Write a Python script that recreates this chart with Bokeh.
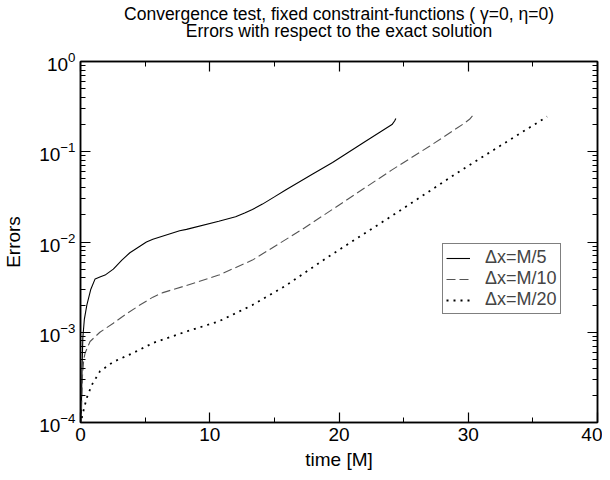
from bokeh.plotting import figure
from bokeh.models import (FixedTicker, Legend, LegendItem, LinearAxis, Title,
                          Range1d, CustomJSTickFormatter)
from bokeh.embed import file_html
from bokeh.resources import INLINE

# ---- data ----
t_m5 = [0.05, 0.12, 0.18, 0.3, 0.49, 0.8, 1.13, 1.5, 1.9, 2.54, 3.2, 3.82, 5.1, 5.6,
        7.67, 8.2, 10.7, 12.0, 12.7, 13.3, 14.08, 15.0, 15.9, 17.9, 19.5, 22.0, 24.1,
        24.3, 24.4]
e_m5 = [1.0e-4, 4.0e-4, 8.7e-4, 1.4e-3, 2.0e-3, 3.0e-3, 3.9e-3, 4.1e-3, 4.3e-3, 5.0e-3,
        6.3e-3, 7.6e-3, 1.0e-2, 1.07e-2, 1.33e-2, 1.38e-2, 1.7e-2, 1.9e-2, 2.09e-2,
        2.29e-2, 2.63e-2, 3.16e-2, 3.8e-2, 5.6e-2, 7.6e-2, 0.129, 0.20, 0.219, 0.234]

t_m10 = [0.05, 0.15, 0.25, 0.36, 0.74, 1.5, 2.54, 3.5, 4.59, 5.6, 6.38, 8.2, 10.7,
         13.3, 15.9, 17.15, 19.5, 24.1, 27.0, 29.7, 30.1, 30.4]
e_m10 = [1.0e-4, 3.2e-4, 5.0e-4, 5.9e-4, 7.9e-4, 1.0e-3, 1.26e-3, 1.58e-3, 2.0e-3,
         2.45e-3, 2.75e-3, 3.3e-3, 4.3e-3, 6.3e-3, 1.07e-2, 1.38e-2, 2.3e-2, 6.3e-2,
         0.115, 0.207, 0.229, 0.257]

t_m20 = [0.1, 0.28, 0.5, 0.87, 1.51, 2.54, 4.08, 5.6, 8.2, 10.7, 13.3, 15.9, 19.2,
         24.1, 29.2, 32.5, 36.1]
e_m20 = [1.12e-4, 1.45e-4, 1.9e-4, 2.6e-4, 3.7e-4, 4.7e-4, 5.9e-4, 7.6e-4, 1.02e-3,
         1.32e-3, 2.0e-3, 3.3e-3, 6.9e-3, 1.95e-2, 5.9e-2, 0.117, 0.245]

series_labels = ["\u0394x=M/5", "\u0394x=M/10", "\u0394x=M/20"]
title_line1 = "Convergence test, fixed constraint-functions ( \u03b3=0, \u03b7=0)"
title_line2 = "Errors with respect to the exact solution"
x_ticks = [0, 10, 20, 30, 40]
x_minor = [5, 15, 25, 35]
y_ticks = [1e-4, 1e-3, 1e-2, 1e-1, 1e0]
y_minor = [m * d for d in [1e-4, 1e-3, 1e-2, 1e-1] for m in range(2, 10)]

FONT = "Liberation Sans"

p = figure(width=602, height=472, output_backend="svg", toolbar_location=None,
           title=None,
           y_axis_type="log", x_range=Range1d(0, 40), y_range=Range1d(1e-4, 1e0),
           min_border_left=77, min_border_right=5, min_border_top=61,
           min_border_bottom=47, x_axis_label="time [M]", y_axis_label="Errors")
p.grid.visible = False
p.outline_line_color = "black"
p.outline_line_width = 1.5
p.background_fill_color = "white"
p.border_fill_color = "white"

r1 = p.line(t_m5, e_m5, line_color="black", line_width=1.1)
r2 = p.line(t_m10, e_m10, line_color="#555555", line_width=1.1, line_dash="9 4")
r3 = p.line(t_m20, e_m20, line_color="black", line_width=1.8, line_dash="2 5")


def style(ax, labels=True):
    ax.axis_line_color = "black"
    ax.axis_line_width = 1.5
    ax.major_tick_in = 10
    ax.major_tick_out = 0
    ax.minor_tick_in = 5
    ax.minor_tick_out = 0
    ax.major_tick_line_color = "black"
    ax.minor_tick_line_color = "black"
    ax.major_tick_line_width = 1.2
    ax.minor_tick_line_width = 1.0
    if labels:
        ax.major_label_text_font = FONT
        ax.major_label_text_font_size = "19px"
        ax.major_label_text_color = "black"
        ax.axis_label_text_font = FONT
        ax.axis_label_text_font_size = "19px"
        ax.axis_label_text_font_style = "normal"
        ax.axis_label_text_color = "black"
    else:
        ax.formatter = CustomJSTickFormatter(code="return ''")
        ax.major_label_text_font_size = "1px"
        ax.major_label_standoff = 0


xt = FixedTicker(ticks=x_ticks, minor_ticks=x_minor)
yt = FixedTicker(ticks=y_ticks, minor_ticks=y_minor)
p.xaxis.ticker = xt
p.yaxis.ticker = yt
style(p.xaxis[0])
style(p.yaxis[0])
p.xaxis.major_label_standoff = 5
p.yaxis.major_label_standoff = 5
p.xaxis.axis_label_standoff = 5
p.yaxis.axis_label_standoff = 12

ax_top = LinearAxis(ticker=xt)
style(ax_top, labels=False)
p.add_layout(ax_top, "above")

# invisible spacer between the frame and the two title lines
spacer = LinearAxis(ticker=xt)
style(spacer, labels=False)
spacer.major_tick_in = 0
spacer.major_tick_out = 21
spacer.minor_tick_in = 0
spacer.minor_tick_out = 0
spacer.major_tick_line_alpha = 0
spacer.minor_tick_line_alpha = 0
spacer.axis_line_alpha = 0
p.add_layout(spacer, "above")

ax_right = LinearAxis(ticker=yt)
style(ax_right, labels=False)
p.add_layout(ax_right, "right")

for txt, so in ((title_line2, 0), (title_line1, -10)):
    p.add_layout(Title(text=txt, align="center", text_font=FONT,
                       text_font_size="17.5px", text_font_style="normal",
                       text_color="black", standoff=so), "above")

legend = Legend(items=[LegendItem(label=series_labels[0], renderers=[r1]),
                       LegendItem(label=series_labels[1], renderers=[r2]),
                       LegendItem(label=series_labels[2], renderers=[r3])],
                location=(362, 108))
legend.label_text_font = FONT
legend.label_text_font_size = "18px"
legend.label_height = 18
legend.glyph_height = 18
legend.glyph_width = 24
legend.spacing = 0
legend.padding = 3
legend.margin = 0
legend.label_standoff = 15
legend.border_line_color = "black"
legend.border_line_width = 1.2
legend.background_fill_alpha = 1.0
p.add_layout(legend)

open("out.html", "w").write(file_html(p, INLINE))
